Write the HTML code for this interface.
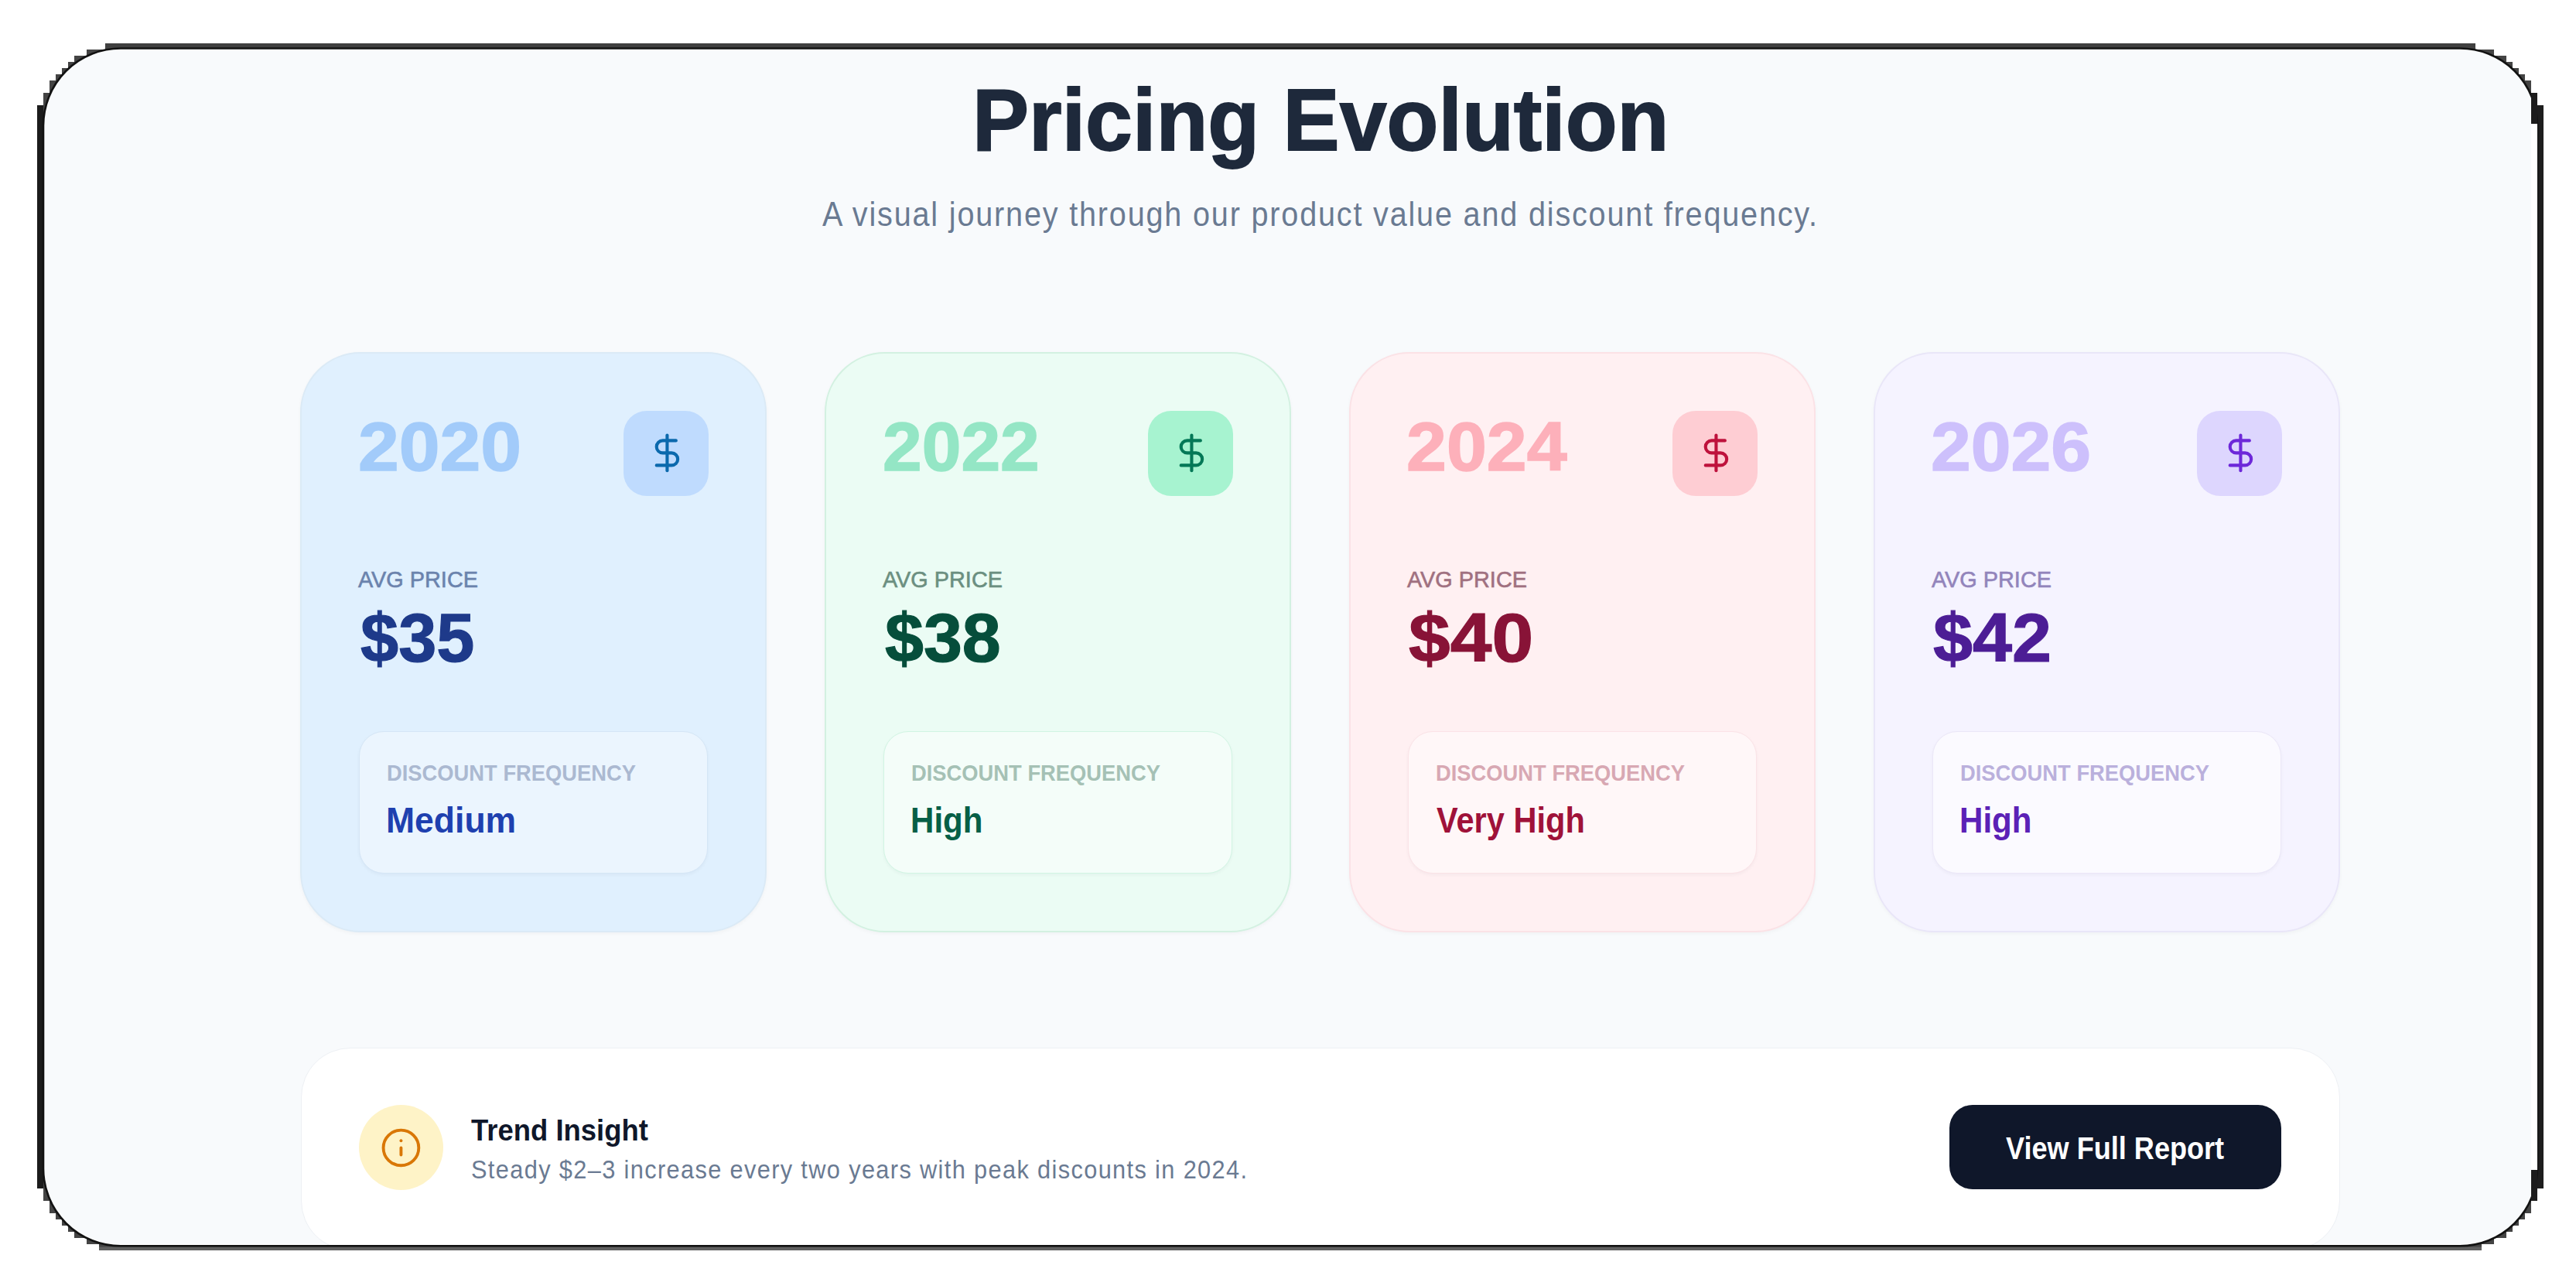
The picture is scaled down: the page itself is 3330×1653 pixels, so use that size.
<!DOCTYPE html>
<html><head><meta charset="utf-8"><style>
html,body{margin:0;padding:0;}
body{width:3330px;height:1653px;position:relative;overflow:hidden;background:#fff;font-family:"Liberation Sans",sans-serif;}
.a{position:absolute;box-sizing:border-box;}
.t{position:absolute;line-height:1;white-space:nowrap;transform-origin:0 0;}
svg{position:absolute;}
</style></head><body>
<div class="a" style="left:56px;top:64px;width:3224px;height:1544px;background:#f8fafc;border-radius:100px;"></div>
<div class="a" style="left:388px;top:455px;width:603px;height:750px;border-radius:78px;background:#e0f0fe;border:2px solid #dbeaf6;box-shadow:0 2px 5px rgba(15,23,42,0.035);"></div>
<div class="a" style="left:806px;top:531px;width:110px;height:110px;border-radius:30px;background:#bfdbfe;"></div>
<svg style="left:834.57px;top:558.07px" width="54.86" height="54.86" viewBox="0 0 24 24" fill="none" stroke="#0b69ad" stroke-width="1.8" stroke-linecap="round" stroke-linejoin="round"><line x1="12" x2="12" y1="2" y2="22"/><path d="M17 5H9.5a3.5 3.5 0 0 0 0 7h5a3.5 3.5 0 0 1 0 7H6"/></svg>
<div class="a" style="left:464px;top:945px;width:451px;height:184px;border-radius:32px;background:#ebf5fe;border:1.5px solid #d5e6f6;box-shadow:0 2px 4px rgba(15,23,42,0.04);"></div>
<div class="a" style="left:1066px;top:455px;width:603px;height:750px;border-radius:78px;background:#ebfcf4;border:2px solid #d3f1e1;box-shadow:0 2px 5px rgba(15,23,42,0.035);"></div>
<div class="a" style="left:1484px;top:531px;width:110px;height:110px;border-radius:30px;background:#a7f3d0;"></div>
<svg style="left:1512.57px;top:558.07px" width="54.86" height="54.86" viewBox="0 0 24 24" fill="none" stroke="#047857" stroke-width="1.8" stroke-linecap="round" stroke-linejoin="round"><line x1="12" x2="12" y1="2" y2="22"/><path d="M17 5H9.5a3.5 3.5 0 0 0 0 7h5a3.5 3.5 0 0 1 0 7H6"/></svg>
<div class="a" style="left:1142px;top:945px;width:451px;height:184px;border-radius:32px;background:#f4fdf9;border:1.5px solid #d1f5e3;box-shadow:0 2px 4px rgba(15,23,42,0.04);"></div>
<div class="a" style="left:1744px;top:455px;width:603px;height:750px;border-radius:78px;background:#fff0f2;border:2px solid #fbe2e6;box-shadow:0 2px 5px rgba(15,23,42,0.035);"></div>
<div class="a" style="left:2162px;top:531px;width:110px;height:110px;border-radius:30px;background:#fecdd3;"></div>
<svg style="left:2190.57px;top:558.07px" width="54.86" height="54.86" viewBox="0 0 24 24" fill="none" stroke="#be123c" stroke-width="1.8" stroke-linecap="round" stroke-linejoin="round"><line x1="12" x2="12" y1="2" y2="22"/><path d="M17 5H9.5a3.5 3.5 0 0 0 0 7h5a3.5 3.5 0 0 1 0 7H6"/></svg>
<div class="a" style="left:1820px;top:945px;width:451px;height:184px;border-radius:32px;background:#fff7f8;border:1.5px solid #fbe3e7;box-shadow:0 2px 4px rgba(15,23,42,0.04);"></div>
<div class="a" style="left:2422px;top:455px;width:603px;height:750px;border-radius:78px;background:#f5f3ff;border:2px solid #e9e6f8;box-shadow:0 2px 5px rgba(15,23,42,0.035);"></div>
<div class="a" style="left:2840px;top:531px;width:110px;height:110px;border-radius:30px;background:#ddd6fe;"></div>
<svg style="left:2868.57px;top:558.07px" width="54.86" height="54.86" viewBox="0 0 24 24" fill="none" stroke="#6d28d9" stroke-width="1.8" stroke-linecap="round" stroke-linejoin="round"><line x1="12" x2="12" y1="2" y2="22"/><path d="M17 5H9.5a3.5 3.5 0 0 0 0 7h5a3.5 3.5 0 0 1 0 7H6"/></svg>
<div class="a" style="left:2498px;top:945px;width:451px;height:184px;border-radius:32px;background:#fbfaff;border:1.5px solid #ebe7f8;box-shadow:0 2px 4px rgba(15,23,42,0.04);"></div>
<div class="t" style="left:462.81px;top:533.30px;font-size:88.94px;font-weight:700;color:#a2cbfa;letter-spacing:0px;-webkit-text-stroke:1.5px #a2cbfa;transform:scaleX(1.0669)">2020</div>
<div class="t" style="left:463.00px;top:734.10px;font-size:29.65px;font-weight:400;color:#6b83ad;letter-spacing:0px;-webkit-text-stroke:0.6px #6b83ad;transform:scaleX(0.9733)">AVG PRICE</div>
<div class="t" style="left:465.82px;top:780.30px;font-size:88.94px;font-weight:700;color:#1e3a8a;letter-spacing:0px;-webkit-text-stroke:1.2px #1e3a8a;transform:scaleX(0.9936)">$35</div>
<div class="t" style="left:500.06px;top:985.40px;font-size:29.07px;font-weight:700;color:#abb9d1;letter-spacing:0px;-webkit-text-stroke:0px #abb9d1;transform:scaleX(0.9409)">DISCOUNT FREQUENCY</div>
<div class="t" style="left:498.92px;top:1036.85px;font-size:46.08px;font-weight:700;color:#1e40af;letter-spacing:0px;-webkit-text-stroke:0px #1e40af;transform:scaleX(0.9659)">Medium</div>
<div class="t" style="left:1141.12px;top:533.30px;font-size:88.94px;font-weight:700;color:#94e6c5;letter-spacing:0px;-webkit-text-stroke:1.5px #94e6c5;transform:scaleX(1.0251)">2022</div>
<div class="t" style="left:1141.00px;top:734.10px;font-size:29.65px;font-weight:400;color:#6b8f80;letter-spacing:0px;-webkit-text-stroke:0.6px #6b8f80;transform:scaleX(0.9733)">AVG PRICE</div>
<div class="t" style="left:1143.92px;top:780.30px;font-size:88.94px;font-weight:700;color:#064e3b;letter-spacing:0px;-webkit-text-stroke:1.2px #064e3b;transform:scaleX(1.0093)">$38</div>
<div class="t" style="left:1178.06px;top:985.40px;font-size:29.07px;font-weight:700;color:#a5c1b5;letter-spacing:0px;-webkit-text-stroke:0px #a5c1b5;transform:scaleX(0.9409)">DISCOUNT FREQUENCY</div>
<div class="t" style="left:1177.32px;top:1036.85px;font-size:46.08px;font-weight:700;color:#065f46;letter-spacing:0px;-webkit-text-stroke:0px #065f46;transform:scaleX(0.9135)">High</div>
<div class="t" style="left:1817.52px;top:533.30px;font-size:88.94px;font-weight:700;color:#fdb0ba;letter-spacing:0px;-webkit-text-stroke:1.5px #fdb0ba;transform:scaleX(1.0496)">2024</div>
<div class="t" style="left:1819.00px;top:734.10px;font-size:29.65px;font-weight:400;color:#a07080;letter-spacing:0px;-webkit-text-stroke:0.6px #a07080;transform:scaleX(0.9733)">AVG PRICE</div>
<div class="t" style="left:1821.22px;top:780.30px;font-size:88.94px;font-weight:700;color:#881337;letter-spacing:0px;-webkit-text-stroke:1.2px #881337;transform:scaleX(1.0858)">$40</div>
<div class="t" style="left:1856.06px;top:985.40px;font-size:29.07px;font-weight:700;color:#d8a8b3;letter-spacing:0px;-webkit-text-stroke:0px #d8a8b3;transform:scaleX(0.9409)">DISCOUNT FREQUENCY</div>
<div class="t" style="left:1856.92px;top:1036.85px;font-size:46.08px;font-weight:700;color:#9f1239;letter-spacing:0px;-webkit-text-stroke:0px #9f1239;transform:scaleX(0.9025)">Very High</div>
<div class="t" style="left:2495.62px;top:533.30px;font-size:88.94px;font-weight:700;color:#cdc0fc;letter-spacing:0px;-webkit-text-stroke:1.5px #cdc0fc;transform:scaleX(1.0468)">2026</div>
<div class="t" style="left:2497.00px;top:734.10px;font-size:29.65px;font-weight:400;color:#9284bb;letter-spacing:0px;-webkit-text-stroke:0.6px #9284bb;transform:scaleX(0.9733)">AVG PRICE</div>
<div class="t" style="left:2499.02px;top:780.30px;font-size:88.94px;font-weight:700;color:#4c1d95;letter-spacing:0px;-webkit-text-stroke:1.2px #4c1d95;transform:scaleX(1.0314)">$42</div>
<div class="t" style="left:2534.06px;top:985.40px;font-size:29.07px;font-weight:700;color:#bab0dc;letter-spacing:0px;-webkit-text-stroke:0px #bab0dc;transform:scaleX(0.9409)">DISCOUNT FREQUENCY</div>
<div class="t" style="left:2533.32px;top:1036.85px;font-size:46.08px;font-weight:700;color:#5b21b6;letter-spacing:0px;-webkit-text-stroke:0px #5b21b6;transform:scaleX(0.9135)">High</div>
<div class="t" style="left:1256.76px;top:97.65px;font-size:113.62px;font-weight:700;color:#1e293b;letter-spacing:0px;-webkit-text-stroke:1.8px #1e293b;transform:scaleX(0.9639);">Pricing Evolution</div>
<div class="t" style="left:1063.00px;top:255.00px;font-size:44.00px;font-weight:400;color:#6a7a92;letter-spacing:2.0px;-webkit-text-stroke:0px #6a7a92;transform:scaleX(0.9006);">A visual journey through our product value and discount frequency.</div>
<div class="a" style="left:389px;top:1354px;width:2636px;height:262px;border-radius:64px;background:#fff;border:1.5px solid #edf0f4;"></div>
<div class="a" style="left:464px;top:1428px;width:109px;height:110px;border-radius:50%;background:#fef3c7;"></div>
<svg style="left:490.9px;top:1455.9px" width="54.86" height="54.86" viewBox="0 0 24 24" fill="none" stroke="#d97706" stroke-width="1.7" stroke-linecap="round" stroke-linejoin="round"><circle cx="12" cy="12" r="10"/><path d="M12 16v-4"/><path d="M12 8h.01"/></svg>
<div class="a" style="left:2520px;top:1428px;width:429px;height:109px;border-radius:30px;background:#0f172a;"></div>
<div class="t" style="left:608.57px;top:1441.95px;font-size:38.81px;font-weight:700;color:#0f172a;letter-spacing:0px;-webkit-text-stroke:0px #0f172a;transform:scaleX(0.9397);">Trend Insight</div>
<div class="t" style="left:609.38px;top:1494.45px;font-size:34.00px;font-weight:400;color:#6a7a92;letter-spacing:1.5px;-webkit-text-stroke:0px #6a7a92;transform:scaleX(0.9044);">Steady $2&ndash;3 increase every two years with peak discounts in 2024.</div>
<div class="t" style="left:2593.00px;top:1463.70px;font-size:40.41px;font-weight:700;color:#ffffff;letter-spacing:0px;-webkit-text-stroke:0px #ffffff;transform:scaleX(0.8933);">View Full Report</div>
<svg style="left:0;top:0" width="3330" height="1653" viewBox="0 0 3330 1653">
<path d="M136,56 L3200,56 L3200,64 L3224,64 L3224,72 L3240,72 L3240,80 L3248,80 L3248,88 L3256,88 L3256,96 L3264,96 L3264,104 L3272,104 L3272,120 L3280,120 L3280,136 L3288,136 L3288,1536 L3280,1536 L3280,1552 L3272,1552 L3272,1568 L3264,1568 L3264,1576 L3256,1576 L3256,1584 L3248,1584 L3248,1592 L3240,1592 L3240,1600 L3224,1600 L3224,1608 L3208,1608 L3208,1616 L128,1616 L128,1608 L112,1608 L112,1600 L96,1600 L96,1592 L88,1592 L88,1584 L80,1584 L80,1576 L72,1576 L72,1568 L64,1568 L64,1552 L56,1552 L56,1536 L48,1536 L48,136 L56,136 L56,120 L64,120 L64,104 L72,104 L72,96 L80,96 L80,88 L88,88 L88,80 L96,80 L96,72 L112,72 L112,64 L136,64 Z M156,62.5 L3180,62.5 A100,100 0 0 1 3280,162.5 L3280,1510.25 A100,100 0 0 1 3180,1610.25 L156,1610.25 A100,100 0 0 1 56,1510.25 L56,162.5 A100,100 0 0 1 156,62.5 Z" fill="#444444" fill-rule="evenodd"/>
<rect x="48" y="136" width="8" height="1400" fill="#1c1c1c"/>
<rect x="3280" y="136" width="8" height="1400" fill="#1e1e1e"/>
<rect x="136" y="56" width="3064" height="5" fill="#404040"/>
<rect x="128" y="1611.5" width="3080" height="4.5" fill="#606060"/>
<path d="M156,62.5 L3180,62.5 A100,100 0 0 1 3280,162.5 L3280,1510.25 A100,100 0 0 1 3180,1610.25 L156,1610.25 A100,100 0 0 1 56,1510.25 L56,162.5 A100,100 0 0 1 156,62.5 Z" fill="none" stroke="#121212" stroke-width="2.6"/>
<rect x="3272" y="120" width="8" height="40" fill="#1c1c1c"/>
<rect x="3272" y="1512" width="8" height="40" fill="#1c1c1c"/>
<rect x="3272" y="160" width="8" height="1352" fill="#ffffff"/>
</svg>
</body></html>
